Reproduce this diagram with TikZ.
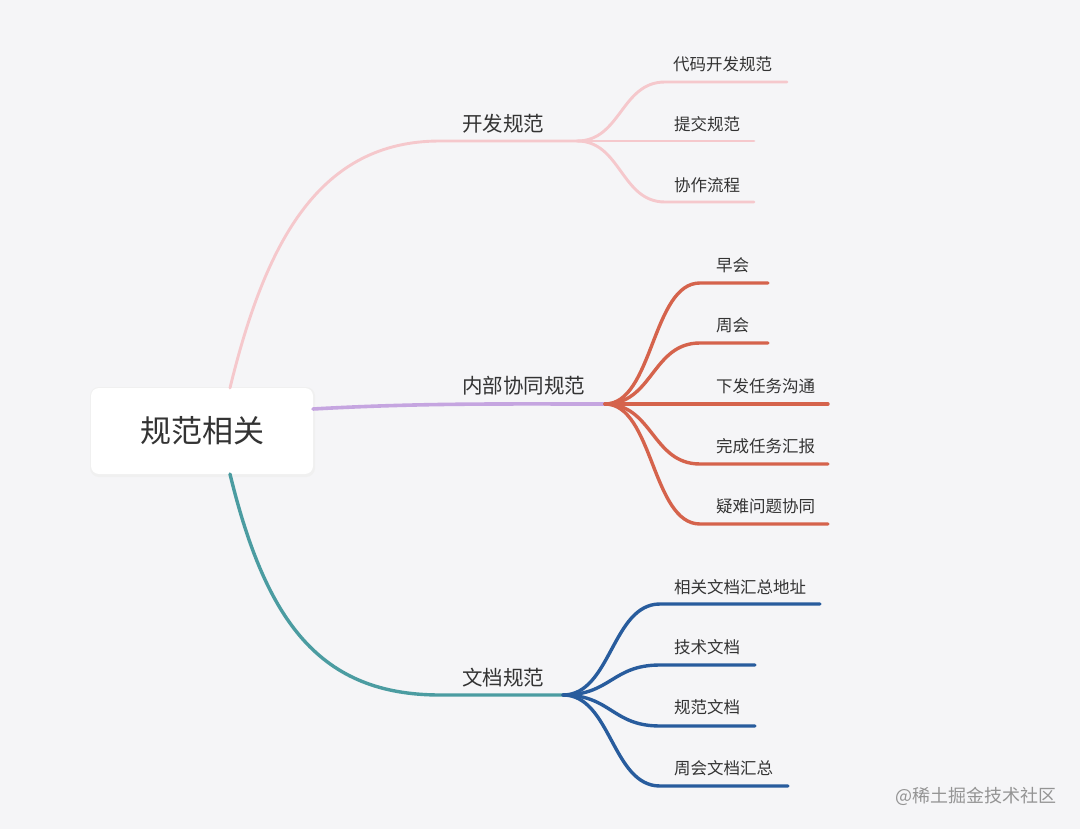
\documentclass[tikz,border=0pt]{standalone}
\usepackage{fontspec}
\setmainfont{Noto Sans CJK SC}
\usetikzlibrary{calc}
\definecolor{bg}{HTML}{F5F5F7}
\definecolor{pinkc}{HTML}{F5C8CC}
\definecolor{purc}{HTML}{C5A5E0}
\definecolor{redc}{HTML}{D5634C}
\definecolor{tealc}{HTML}{4B9CA1}
\definecolor{bluec}{HTML}{285C9D}
\definecolor{txt}{HTML}{333333}
\tikzset{
  rootbox/.style={draw=none,fill=white,rounded corners=8pt,minimum width=222pt,minimum height=86pt,inner sep=0pt,font=\fontsize{31}{31}\selectfont,text=txt},
  lvlone/.style={anchor=west,inner sep=0pt,font=\fontsize{20.5}{21}\selectfont,text=txt},
  lvltwo/.style={anchor=west,inner sep=0pt,font=\fontsize{16.5}{17}\selectfont,text=txt},
  pinkline/.style={draw=pinkc,line width=2.9pt,line cap=round},
  purline/.style={draw=purc,line width=3.6pt,line cap=round},
  redline/.style={draw=redc,line width=3.4pt,line cap=round},
  tealline/.style={draw=tealc,line width=3.4pt,line cap=round},
  blueline/.style={draw=bluec,line width=3.4pt,line cap=round},
  wm/.style={anchor=west,inner sep=0pt,font=\fontsize{18}{18}\selectfont,text=black!42}
}
\begin{document}
\begin{tikzpicture}[x=1pt,y=-1pt]
\useasboundingbox (0,0) rectangle (1080,829);
\fill[bg] (0,0) rectangle (1080,829);

% root
\fill[black!6,rounded corners=9pt] (90,387) rectangle (315,477);
\node[rootbox] (root) at (202,431) {规范相关};

% branch coordinates
\coordinate (rt) at (230,388);
\coordinate (rb) at (230,474);
\coordinate (rr) at (313,409);
\coordinate (b1) at (440,141);
\coordinate (j1) at (577,141);
\coordinate (j2) at (605,404);
\coordinate (b3) at (440,695);
\coordinate (j3) at (563,695);

% level-one connectors
\draw[pinkline] (rt) .. controls (266,240) and (320,141) .. (b1) -- (j1);
\draw[purline] (rr) .. controls (420,403) and (500,404) .. (j2);
\draw[tealline] (rb) .. controls (266,622) and (320,695) .. (b3) -- (j3);

% level-one labels
\node[lvlone] (l1) at (462,124) {开发规范};
\node[lvlone] (l2) at (462,386) {内部协同规范};
\node[lvlone] (l3) at (462,678) {文档规范};

% pink children
\coordinate (p1a) at (665,82);  \coordinate (p1b) at (787,82);
\coordinate (p2b) at (754,141);
\coordinate (p3a) at (665,202); \coordinate (p3b) at (754,202);
\draw[pinkline] (j1) .. controls +(44,0) and +(-44,0) .. (p1a) -- (p1b);
\draw[pinkline] (j1) -- (p2b);
\draw[pinkline] (j1) .. controls +(44,0) and +(-44,0) .. (p3a) -- (p3b);
\node[lvltwo] (t11) at (673,64) {代码开发规范};
\node[lvltwo] (t12) at (674,124) {提交规范};
\node[lvltwo] (t13) at (674,185) {协作流程};

% red children
\coordinate (r1a) at (700,283); \coordinate (r1b) at (768,283);
\coordinate (r2a) at (700,343); \coordinate (r2b) at (768,343);
\coordinate (r3b) at (828,404);
\coordinate (r4a) at (700,464); \coordinate (r4b) at (828,464);
\coordinate (r5a) at (700,524); \coordinate (r5b) at (828,524);
\draw[redline] (j2) .. controls +(48,0) and +(-48,0) .. (r1a) -- (r1b);
\draw[redline] (j2) .. controls +(48,0) and +(-48,0) .. (r2a) -- (r2b);
\draw[redline] (j2) -- (r3b);
\draw[redline] (j2) .. controls +(48,0) and +(-48,0) .. (r4a) -- (r4b);
\draw[redline] (j2) .. controls +(48,0) and +(-48,0) .. (r5a) -- (r5b);
\node[lvltwo] (t21) at (716,265) {早会};
\node[lvltwo] (t22) at (716,325) {周会};
\node[lvltwo] (t23) at (716,386) {下发任务沟通};
\node[lvltwo] (t24) at (716,446) {完成任务汇报};
\node[lvltwo] (t25) at (716,506) {疑难问题协同};

% blue children
\coordinate (u1a) at (660,604); \coordinate (u1b) at (820,604);
\coordinate (u2a) at (660,665); \coordinate (u2b) at (755,665);
\coordinate (u3a) at (660,726); \coordinate (u3b) at (755,726);
\coordinate (u4a) at (660,786); \coordinate (u4b) at (788,786);
\draw[blueline] (j3) .. controls +(48,0) and +(-48,0) .. (u1a) -- (u1b);
\draw[blueline] (j3) .. controls +(48,0) and +(-48,0) .. (u2a) -- (u2b);
\draw[blueline] (j3) .. controls +(48,0) and +(-48,0) .. (u3a) -- (u3b);
\draw[blueline] (j3) .. controls +(48,0) and +(-48,0) .. (u4a) -- (u4b);
\node[lvltwo] (t31) at (674,587) {相关文档汇总地址};
\node[lvltwo] (t32) at (674,647) {技术文档};
\node[lvltwo] (t33) at (674,707) {规范文档};
\node[lvltwo] (t34) at (674,768) {周会文档汇总};

% watermark
\node[wm] (wmk) at (895,796) {@稀土掘金技术社区};
\end{tikzpicture}
\end{document}
